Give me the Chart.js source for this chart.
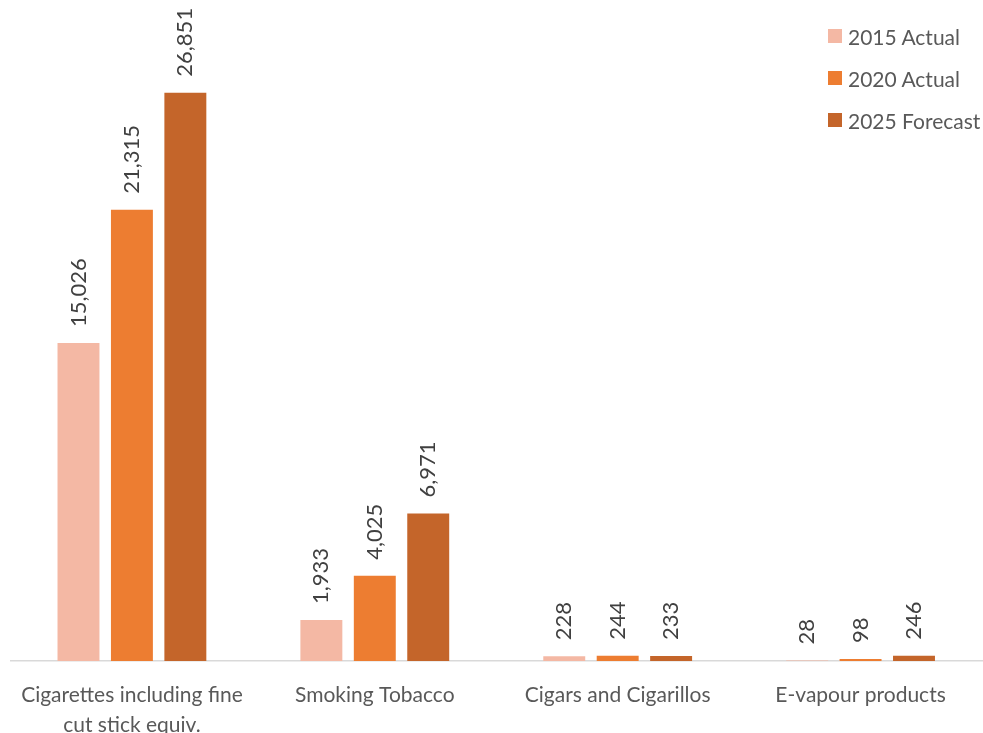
<!DOCTYPE html>
<html>
<head>
<meta charset="utf-8">
<script src="https://cdn.jsdelivr.net/npm/chart.js@4/dist/chart.umd.min.js"></script>
<style>
  html, body { margin: 0; padding: 0; background: #fff; }
  #wrap { position: relative; width: 983px; height: 733px; }
  #legend { position: absolute; left: 828px; top: 15px; font-family: Lato, sans-serif; font-size: 21px; color: #595959; }
  #legend div { height: 42px; display: flex; align-items: center; }
  #legend span.box { display: inline-block; width: 14px; height: 14px; margin-right: 6px; }
</style>
</head>
<body>
<div id="wrap">
  <canvas id="volChart" width="983" height="733"></canvas>
  <div id="legend"></div>
</div>
<script>
var categories = [
    ['Cigarettes including fine', 'cut stick equiv.'],
    'Smoking Tobacco',
    'Cigars and Cigarillos',
    'E-vapour products'
];
var seriesNames = ['2015 Actual', '2020 Actual', '2025 Forecast'];
var actual2015 = [15026, 1933, 228, 28];
var actual2020 = [21315, 4025, 244, 98];
var forecast2025 = [26851, 6971, 233, 246];
var seriesColors = ['#F4B8A4', '#ED7D31', '#C4652A'];

document.addEventListener("DOMContentLoaded", function () {
    var ctx = document.getElementById('volChart').getContext('2d');
    var allData = [actual2015, actual2020, forecast2025];

    // value labels above each bar, rotated
    var barLabels = {
        id: 'barLabels',
        afterDatasetsDraw: function (chart) {
            var c = chart.ctx;
            c.save();
            c.font = '22px Lato, sans-serif';
            c.fillStyle = '#404040';
            c.textAlign = 'left';
            c.textBaseline = 'middle';
            chart.data.datasets.forEach(function (ds, i) {
                chart.getDatasetMeta(i).data.forEach(function (bar, j) {
                    c.save();
                    c.translate(bar.x, bar.y - 16);
                    c.rotate(-Math.PI / 2);
                    c.fillText(ds.data[j].toLocaleString('en-US'), 0, 0);
                    c.restore();
                });
            });
            c.restore();
        }
    };

    new Chart(ctx, {
        type: 'bar',
        data: {
            labels: categories,
            datasets: seriesNames.map(function (name, i) {
                return {
                    label: name,
                    data: allData[i],
                    backgroundColor: seriesColors[i],
                    categoryPercentage: 0.66,
                    barPercentage: 0.785
                };
            })
        },
        options: {
            responsive: false,
            animation: false,
            layout: { padding: { left: 9, right: 1, top: 26, bottom: 0 } },
            scales: {
                x: {
                    grid: { display: false, drawTicks: false },
                    border: { display: true, color: '#D9D9D9', width: 1.5 },
                    ticks: {
                        color: '#595959',
                        font: { family: 'Lato, sans-serif', size: 21, lineHeight: 1.4 },
                        padding: 20,
                        maxRotation: 0,
                        autoSkip: false
                    },
                    afterFit: function (scale) {
                        scale.height = 72;
                    }
                },
                y: {
                    display: false,
                    min: 0,
                    max: 30000
                }
            },
            plugins: {
                legend: { display: false },
                tooltip: { enabled: false }
            }
        },
        plugins: [barLabels]
    });

    var legend = document.getElementById('legend');
    seriesNames.forEach(function (name, i) {
        var row = document.createElement('div');
        row.innerHTML = '<span class="box" style="background:' + seriesColors[i] + '"></span>' + name;
        legend.appendChild(row);
    });
});
</script>
</body>
</html>
